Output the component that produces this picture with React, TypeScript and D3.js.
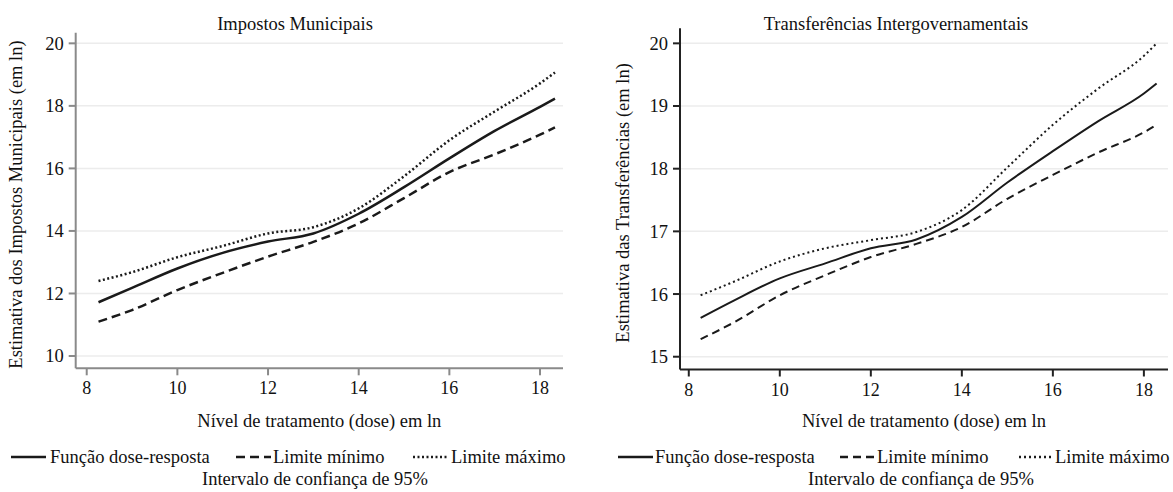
import React from "react";
import * as d3 from "d3";

const doseLeft = [8.26, 9, 10, 11, 12, 13, 14, 15, 16, 17, 18, 18.33];
const impostoResp = [11.72, 12.18, 12.8, 13.3, 13.66, 13.92, 14.55, 15.4, 16.32, 17.2, 17.97, 18.23];
const impostoMin = [11.1, 11.47, 12.11, 12.66, 13.18, 13.65, 14.24, 15.05, 15.88, 16.45, 17.08, 17.31];
const impostoMax = [12.4, 12.68, 13.16, 13.52, 13.92, 14.12, 14.72, 15.75, 16.9, 17.82, 18.72, 19.07];

const doseRight = [8.26, 9, 10, 11, 12, 13, 14, 15, 16, 17, 18, 18.28];
const transfResp = [15.62, 15.9, 16.25, 16.49, 16.73, 16.87, 17.23, 17.78, 18.28, 18.76, 19.2, 19.36];
const transfMin = [15.28, 15.55, 15.98, 16.3, 16.59, 16.8, 17.07, 17.52, 17.9, 18.26, 18.58, 18.7];
const transfMax = [15.98, 16.2, 16.52, 16.73, 16.86, 16.99, 17.34, 18.02, 18.7, 19.28, 19.8, 20.0];

const xTicks = [8, 10, 12, 14, 16, 18];
const yTicksLeft = [10, 12, 14, 16, 18, 20];
const yTicksRight = [15, 16, 17, 18, 19, 20];

const legendLabels = ["Função dose-resposta", "Limite mínimo", "Limite máximo"];
const FONT = "'Liberation Serif', 'Times New Roman', serif";
const TXT = 18.5;

type PanelProps = {
  title: string;
  yLabel: string;
  dose: number[];
  series: number[][];
  yTicks: number[];
  xRange: [number, number];
  xDomain: [number, number];
  yRange: [number, number];
  yDomain: [number, number];
  axisColor: string;
  axisWidth: number;
  lineWidth: number;
  titleX: number;
  yLabelX: number;
  legendX: number[];
  legendTextX: number[];
  subX: number;
  dash: string[];
};

function Panel(p: PanelProps) {
  const x = d3.scaleLinear().domain(p.xDomain).range(p.xRange);
  const y = d3.scaleLinear().domain(p.yDomain).range(p.yRange);
  const line = d3
    .line<number>()
    .x((_, i) => x(p.dose[i]))
    .y((d) => y(d))
    .curve(d3.curveMonotoneX);
  const [x0, x1] = p.xRange;
  const [yb, yt] = p.yRange;
  const midX = (x0 + x1) / 2;
  const lineColor = "#1a1a1a";
  return (
    <g fontFamily={FONT} fill="#111">
      <text x={p.titleX} y={30} textAnchor="middle" fontSize={TXT}>
        {p.title}
      </text>
      {p.yTicks.map((t) => (
        <line key={"g" + t} x1={x0} x2={x1} y1={y(t)} y2={y(t)} stroke="#ececec" strokeWidth={1.5} />
      ))}
      {p.series.map((s, i) => (
        <path
          key={"s" + i}
          d={line(s) || ""}
          fill="none"
          stroke={lineColor}
          strokeWidth={p.lineWidth}
          strokeDasharray={p.dash[i]}
        />
      ))}
      <line x1={x0} x2={x0} y1={yt} y2={yb} stroke={p.axisColor} strokeWidth={p.axisWidth} />
      <line x1={x0} x2={x1} y1={yb} y2={yb} stroke={p.axisColor} strokeWidth={p.axisWidth} />
      {p.yTicks.map((t) => (
        <g key={"yt" + t}>
          <line x1={x0 - 7} x2={x0} y1={y(t)} y2={y(t)} stroke={p.axisColor} strokeWidth={p.axisWidth} />
          <text x={x0 - 12} y={y(t)} dy="0.35em" textAnchor="end" fontSize={18.5}>
            {t}
          </text>
        </g>
      ))}
      {xTicks.map((t) => (
        <g key={"xt" + t}>
          <line x1={x(t)} x2={x(t)} y1={yb} y2={yb + 7} stroke={p.axisColor} strokeWidth={p.axisWidth} />
          <text x={x(t)} y={yb + 26} textAnchor="middle" fontSize={18}>
            {t}
          </text>
        </g>
      ))}
      <text x={midX} y={427} textAnchor="middle" fontSize={TXT}>
        Nível de tratamento (dose) em ln
      </text>
      <text
        transform={`translate(${p.yLabelX},${(yt + yb) / 2 + 4}) rotate(-90)`}
        textAnchor="middle"
        fontSize={TXT}
      >
        {p.yLabel}
      </text>
      {legendLabels.map((l, i) => (
        <g key={"lg" + i}>
          <line
            x1={p.legendX[i]}
            x2={p.legendX[i] + 35}
            y1={457}
            y2={457}
            stroke={lineColor}
            strokeWidth={2.5}
            strokeDasharray={p.dash[i]}
          />
          <text x={p.legendTextX[i]} y={457} dy="0.35em" fontSize={TXT}>
            {l}
          </text>
        </g>
      ))}
      <text x={p.subX} y={479} dy="0.35em" textAnchor="middle" fontSize={TXT}>
        Intervalo de confiança de 95%
      </text>
    </g>
  );
}

export default function App() {
  return (
    <svg width={1173} height={492} style={{ position: "absolute", left: 0, top: 0, background: "#fff" }}>
      <Panel
        title="Impostos Municipais"
        yLabel="Estimativa dos Impostos Municipais (em ln)"
        dose={doseLeft}
        series={[impostoResp, impostoMin, impostoMax]}
        yTicks={yTicksLeft}
        xRange={[75.7, 563]}
        xDomain={[7.757, 18.507]}
        yRange={[368.3, 32.7]}
        yDomain={[9.607, 20.34]}
        axisColor="#8a8a8a"
        axisWidth={2}
        lineWidth={2.5}
        titleX={295}
        yLabelX={22}
        legendX={[11, 236, 413]}
        legendTextX={[50, 273, 451]}
        subX={315}
        dash={["", "9,5", "2,2.5"]}
      />
      <Panel
        title="Transferências Intergovernamentais"
        yLabel="Estimativa das Transferências (em ln)"
        dose={doseRight}
        series={[transfResp, transfMin, transfMax]}
        yTicks={yTicksRight}
        xRange={[680, 1168]}
        xDomain={[7.807, 18.53]}
        yRange={[369.5, 28.3]}
        yDomain={[14.796, 20.24]}
        axisColor="#222"
        axisWidth={2}
        lineWidth={2}
        titleX={896}
        yLabelX={629}
        legendX={[618, 840, 1019]}
        legendTextX={[655, 877, 1055]}
        subX={921}
        dash={["", "8,5", "2,3"]}
      />
    </svg>
  );
}
